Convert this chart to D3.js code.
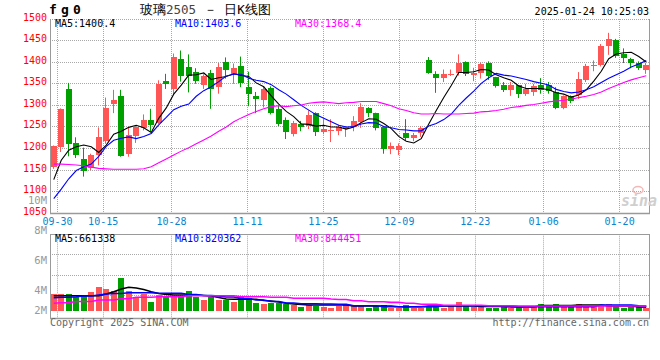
<!DOCTYPE html>
<html><head><meta charset="utf-8">
<script src="https://cdn.jsdelivr.net/npm/d3@7/dist/d3.min.js"></script>
<style>
html,body{margin:0;padding:0;background:#fff;}
svg{display:block;}
text{font-family:"DejaVu Sans Mono",monospace;}
</style></head><body>
<svg id="c" width="660" height="360"></svg>
<script>
// ---------------- data ----------------
const dates = ["09-27","09-30","10-08","10-09","10-10","10-11","10-14","10-15","10-16","10-17",
"10-18","10-21","10-22","10-23","10-24","10-25","10-28","10-29","10-30","10-31",
"11-01","11-04","11-05","11-06","11-07","11-08","11-11","11-12","11-13","11-14",
"11-15","11-18","11-19","11-20","11-21","11-22","11-25","11-26","11-27","11-28",
"11-29","12-02","12-03","12-04","12-05","12-06","12-09","12-10","12-11","12-12",
"12-13","12-16","12-17","12-18","12-19","12-20","12-23","12-24","12-25","12-26",
"12-27","12-30","12-31","01-02","01-03","01-06","01-07","01-08","01-09","01-10",
"01-13","01-14","01-15","01-16","01-17","01-20","01-21","01-22","01-23","01-24"];
const open = [1158,1204,1338,1212,1175,1154,1185,1218,1302,1321,1188,1228,1248,1267,1259,1356,1339,1407,1388,1378,
1348,1376,1342,1401,1373,1391,1342,1322,1312,1340,1291,1265,1233,1256,1252,1283,1238,1240,1241,1245,
1250,1262,1295,1282,1250,1198,1196,1236,1225,1235,1404,1373,1363,1372,1375,1401,1371,1375,1398,1365,
1348,1336,1346,1327,1332,1348,1346,1332,1295,1321,1323,1358,1392,1394,1437,1452,1419,1408,1398,1383];
const high = [1207,1293,1352,1226,1202,1188,1249,1318,1336,1336,1250,1252,1279,1292,1358,1373,1420,1427,1418,1386,
1372,1382,1398,1411,1397,1413,1378,1331,1344,1344,1299,1272,1264,1264,1288,1284,1268,1268,1255,1252,
1275,1305,1296,1283,1251,1214,1212,1268,1236,1252,1412,1379,1383,1383,1418,1402,1387,1399,1402,1366,
1354,1354,1347,1350,1350,1363,1354,1342,1323,1323,1377,1396,1404,1442,1468,1454,1432,1410,1402,1398];
const low = [1153,1192,1182,1178,1135,1150,1161,1211,1282,1181,1181,1213,1242,1238,1257,1338,1325,1355,1330,1350,
1338,1292,1327,1362,1350,1342,1298,1282,1295,1279,1252,1222,1228,1240,1245,1229,1233,1215,1231,1227,
1240,1248,1273,1242,1188,1187,1185,1219,1217,1227,1373,1329,1354,1368,1369,1368,1356,1362,1359,1341,
1331,1322,1317,1322,1322,1327,1327,1291,1291,1305,1315,1354,1379,1390,1417,1410,1398,1386,1382,1373];
const close = [1205,1291,1210,1186,1148,1185,1226,1295,1312,1183,1231,1250,1265,1254,1350,1350,1413,1368,1368,1356,
1369,1338,1388,1383,1386,1351,1326,1315,1337,1282,1256,1238,1258,1250,1277,1238,1245,1242,1250,1250,
1264,1296,1283,1248,1198,1206,1206,1225,1231,1248,1375,1363,1373,1373,1398,1373,1375,1396,1368,1345,
1335,1348,1327,1338,1345,1336,1333,1294,1322,1309,1362,1392,1394,1438,1454,1415,1409,1398,1387,1394];
const ma5 = [1128,1173,1196,1204,1208,1204,1191,1208,1233,1240,1249,1254,1248,1237,1270,1294,1326,1347,1370,1371,
1375,1360,1364,1367,1373,1369,1367,1352,1343,1322,1303,1286,1274,1257,1256,1252,1254,1250,1250,1245,
1250,1260,1269,1268,1258,1246,1228,1217,1213,1223,1257,1288,1318,1346,1376,1376,1378,1383,1382,1371,
1364,1358,1345,1339,1339,1339,1336,1329,1326,1319,1324,1336,1356,1379,1408,1419,1422,1423,1413,1400.4];
const ma10 = [1084,1106,1130,1149,1158,1164,1182,1205,1219,1224,1227,1223,1228,1235,1255,1272,1290,1298,1303,1321,
1334,1343,1355,1368,1372,1372,1363,1358,1355,1348,1336,1326,1313,1300,1289,1278,1270,1262,1254,1250,
1251,1257,1260,1259,1251,1248,1244,1243,1241,1241,1252,1258,1267,1280,1300,1317,1333,1351,1364,1374,
1370,1368,1364,1360,1355,1351,1347,1337,1332,1329,1331,1336,1343,1353,1363,1371,1379,1389,1396,1403.6];
const ma30 = [1164,1164,1163,1162,1160,1157,1154,1153,1152,1152,1152,1152,1153,1158,1167,1176,1185,1194,1202,1211,
1220,1229,1240,1250,1262,1271,1279,1286,1292,1297,1299,1297,1299,1301,1305,1307,1308,1306,1304,1306,
1307,1309,1309,1309,1304,1299,1292,1288,1283,1280,1280,1281,1280,1280,1280,1281,1282,1285,1286,1288,
1291,1295,1297,1300,1302,1305,1308,1310,1312,1314,1318,1321,1325,1331,1339,1346,1353,1359,1364,1368.4];
const volume = [2850000,2850000,2850000,2350000,2630000,3140000,3990000,3700000,3310000,5570000,
3310000,2290000,2850000,1610000,2630000,2290000,2460000,2580000,3310000,2350000,
1780000,2350000,1780000,1900000,1610000,2290000,2180000,1440000,1220000,1330000,
1440000,1220000,940000,680000,960000,850000,730000,560000,850000,960000,
960000,1020000,560000,850000,1020000,560000,560000,1020000,560000,560000,
680000,850000,560000,1020000,1520000,1020000,730000,730000,560000,560000,
850000,560000,850000,560000,850000,1240000,850000,1240000,850000,680000,
1240000,850000,850000,1020000,1240000,1020000,560000,680000,680000,450000];
const vma5 = [2590000,2590000,2590000,2590000,2590000,2590000,2590000,2880000,3270000,3730000,
4020000,3900000,3640000,3270000,2970000,2800000,2710000,2710000,2710000,2710000,
2630000,2540000,2290000,2030000,1980000,1980000,1980000,1980000,1780000,1690000,
1530000,1310000,1190000,1100000,1020000,1020000,1020000,1020000,1020000,1020000,
850000,850000,850000,850000,850000,850000,730000,730000,730000,730000,
850000,850000,850000,850000,850000,850000,850000,760000,760000,760000,
760000,680000,680000,680000,680000,930000,930000,930000,930000,930000,
1020000,1020000,1020000,1020000,850000,850000,850000,850000,700000,661338];
const vma10 = [2250000,2340000,2340000,2420000,2540000,2540000,2710000,2880000,2970000,2970000,
3100000,3100000,3100000,3100000,3000000,3000000,3000000,3000000,2800000,2800000,
2630000,2630000,2540000,2370000,2370000,2120000,2120000,1860000,1860000,1610000,
1610000,1360000,1360000,1220000,1220000,1220000,1190000,1190000,1140000,1140000,
900000,900000,900000,900000,730000,730000,730000,730000,730000,730000,
730000,730000,900000,900000,900000,900000,900000,900000,850000,850000,
850000,850000,730000,730000,730000,730000,730000,730000,730000,730000,
730000,730000,730000,1020000,1020000,1020000,1020000,1020000,880000,820362];
const vma30 = [1310000,1410000,1410000,1610000,1610000,1610000,1860000,1860000,1860000,2080000,
2080000,2320000,2320000,2320000,2420000,2420000,2420000,2420000,2590000,2590000,
2590000,2590000,2590000,2590000,2590000,2420000,2420000,2420000,2420000,2320000,
2320000,2320000,2150000,2150000,2150000,2150000,2150000,2030000,1950000,1950000,
1750000,1750000,1580000,1580000,1580000,1470000,1470000,1310000,1310000,1140000,
1140000,1140000,970000,970000,970000,970000,970000,970000,900000,900000,
900000,900000,850000,850000,850000,850000,850000,850000,850000,850000,
850000,850000,850000,850000,850000,850000,850000,850000,850000,844451];
const priceTicks = [1050,1100,1150,1200,1250,1300,1350,1400,1450,1500];
const dateTicks = ["09-30","10-15","10-28","11-11","11-25","12-09","12-23","01-06","01-20"];
const volTickValues = [10,8,6,4,2];
const volTickLabels = ["10M","8M","6M","4M","2M"];
const priceLegend = ["MA5:1400.4","MA10:1403.6","MA30:1368.4"];
const volLegend = ["MA5:661338","MA10:820362","MA30:844451"];

// ---------------- layout ----------------
const L = 50, R = 650;
const mainTop = 19, mainBot = 213.3;
const volTop = 234.3, volBot = 318.3, volBase = 311;
const RED = "#ff5555", GREEN = "#00a000", GRID = "#a8a8a8", AXIS = "#9a9a9a";
const MA_COLORS = ["#000000", "#0000ff", "#ff00ff"];

const svg = d3.select("#c");
const idx = d3.range(dates.length);
const x = d3.scaleBand().domain(idx).range([L, R]).padding(0);
const xg = d3.scalePoint().domain(idx).range([L, R]);
const y = d3.scaleLinear().domain([1050, 1500]).range([mainBot, mainTop]);
const yv = d3.scaleLinear().domain([0, 1e6]).range([volBase, volBase - 5.9]);
const yvLab = d3.scaleLinear().domain([4, 10]).range([294, 204]);
const cx = i => x(i) + x.bandwidth() / 2;
const crisp = v => Math.floor(v) + 0.5;

// ---------- main panel grid ----------
const g = svg.append("g");
priceTicks.filter(t => t > 1050).forEach(t => {
  g.append("line").attr("x1", L).attr("x2", R).attr("y1", crisp(y(t))).attr("y2", crisp(y(t)))
    .attr("stroke", GRID).attr("stroke-dasharray", "1,1");
});
dateTicks.forEach(d => {
  const xv = crisp(xg(dates.indexOf(d)));
  g.append("line").attr("x1", xv).attr("x2", xv).attr("y1", mainTop).attr("y2", mainBot)
    .attr("stroke", GRID).attr("stroke-dasharray", "1,1");
  g.append("line").attr("x1", xv).attr("x2", xv).attr("y1", volTop).attr("y2", volBot)
    .attr("stroke", GRID).attr("stroke-dasharray", "1,1");
});
// volume horizontal grid
[1, 2, 3].forEach(k => {
  const yy = crisp(volTop + k * 20.4);
  g.append("line").attr("x1", L).attr("x2", R).attr("y1", yy).attr("y2", yy)
    .attr("stroke", GRID).attr("stroke-dasharray", "1,1");
});

// borders
g.append("line").attr("x1", crisp(L)).attr("x2", crisp(L)).attr("y1", mainTop).attr("y2", crisp(mainBot)).attr("stroke", AXIS);
g.append("line").attr("x1", L).attr("x2", R).attr("y1", crisp(mainBot)).attr("y2", crisp(mainBot)).attr("stroke", AXIS).attr("stroke-width", 1.3);
g.append("line").attr("x1", R - 0.5).attr("x2", R - 0.5).attr("y1", mainTop).attr("y2", mainBot).attr("stroke", AXIS);
g.append("line").attr("x1", crisp(L)).attr("x2", crisp(L)).attr("y1", volTop).attr("y2", volBot).attr("stroke", AXIS);
g.append("line").attr("x1", L).attr("x2", R).attr("y1", crisp(volTop)).attr("y2", crisp(volTop)).attr("stroke", AXIS);
g.append("line").attr("x1", L).attr("x2", R).attr("y1", crisp(volBot)).attr("y2", crisp(volBot)).attr("stroke", AXIS).attr("stroke-width", 1.3);
g.append("line").attr("x1", R - 0.5).attr("x2", R - 0.5).attr("y1", volTop).attr("y2", volBot).attr("stroke", AXIS);

// ---------- watermark ----------
svg.append("ellipse").attr("cx", 638).attr("cy", 190).attr("rx", 5).attr("ry", 3.5)
  .attr("fill", "none").attr("stroke", "#f2b8b8").attr("stroke-width", 1.5);
svg.append("text").attr("x", 621).attr("y", 206).text("sina")
  .attr("font-family", "DejaVu Sans").attr("font-style", "italic").attr("font-weight", "bold")
  .attr("font-size", 15).attr("fill", "#cfcfcf");

// ---------- candles ----------
const candles = svg.append("g");
idx.forEach(i => {
  const o = open[i], c = close[i], up = c >= o;
  const col = up ? RED : GREEN;
  const a = Math.round(cx(i) - 3);
  candles.append("line").attr("x1", a + 2.5).attr("x2", a + 2.5)
    .attr("y1", y(high[i])).attr("y2", y(low[i])).attr("stroke", col).attr("stroke-width", 1);
  const top = Math.round(y(Math.max(o, c))), bot = Math.round(y(Math.min(o, c)));
  candles.append("rect").attr("x", a).attr("y", top).attr("width", 6)
    .attr("height", Math.max(1, bot - top)).attr("fill", col);
});

// MA lines main
const line = d3.line().x((d, i) => cx(i)).y(d => y(d));
[ma5, ma10, ma30].forEach((arr, k) => {
  svg.append("path").attr("d", line(arr)).attr("fill", "none")
    .attr("stroke", MA_COLORS[k]).attr("stroke-width", 1.1);
});

// ---------- volume ----------
const vg = svg.append("g");
idx.forEach(i => {
  const col = close[i] >= open[i] ? RED : GREEN;
  const a = Math.round(cx(i) - 3);
  const t = Math.round(yv(volume[i]));
  vg.append("rect").attr("x", a).attr("y", t).attr("width", 6)
    .attr("height", Math.max(1, volBase - t)).attr("fill", col);
});
const vline = d3.line().x((d, i) => cx(i)).y(d => yv(d));
[vma5, vma10, vma30].forEach((arr, k) => {
  svg.append("path").attr("d", vline(arr)).attr("fill", "none")
    .attr("stroke", MA_COLORS[k]).attr("stroke-width", 1.6);
});

// ---------- labels ----------
const lab = svg.append("g");
priceTicks.forEach(t => {
  lab.append("text").attr("x", 47).attr("y", y(t) + 1.5).attr("text-anchor", "end")
    .attr("font-size", 10).attr("fill", "#ff0000").text(t);
});
volTickValues.forEach((v, k) => {
  lab.append("text").attr("x", 47).attr("y", Math.min(yvLab(v), volBot - 4))
    .attr("text-anchor", "end").attr("font-size", 10.5).attr("fill", "#999999").text(volTickLabels[k]);
});
dateTicks.forEach(d => {
  lab.append("text").attr("x", xg(dates.indexOf(d))).attr("y", 225).attr("text-anchor", "middle")
    .attr("font-size", 10).attr("fill", "#0a84d0").text(d);
});
const legendX = [55, 175, 295];
priceLegend.forEach((s, k) => {
  lab.append("text").attr("x", legendX[k]).attr("y", 27).attr("font-size", 10)
    .attr("fill", MA_COLORS[k]).text(s);
});
volLegend.forEach((s, k) => {
  lab.append("text").attr("x", legendX[k]).attr("y", 241.5).attr("font-size", 10)
    .attr("fill", MA_COLORS[k]).text(s);
});

// header
lab.append("text").attr("x", 49).attr("y", 14).attr("font-size", 13).attr("font-weight", "bold")
  .attr("letter-spacing", "4.2px").attr("fill", "#000").text("fg0");
const title = lab.append("text").attr("x", 140).attr("y", 14)
  .attr("font-family", "'Noto Sans CJK SC', sans-serif").attr("font-size", 12.5).attr("fill", "#000");
title.append("tspan").text("玻璃");
title.append("tspan").attr("fill", "#444").text("2505");
title.append("tspan").text(" － 日K线图");
lab.append("text").attr("x", 649).attr("y", 15).attr("text-anchor", "end").attr("font-size", 10)
  .attr("fill", "#000").text("2025-01-24 10:25:03");

// footer
lab.append("text").attr("x", 50).attr("y", 326).attr("font-size", 10).attr("fill", "#666").text("Copyright 2025 SINA.COM");
lab.append("text").attr("x", 649).attr("y", 326).attr("text-anchor", "end").attr("font-size", 10)
  .attr("fill", "#666").text("http://finance.sina.com.cn");
</script>
</body></html>
